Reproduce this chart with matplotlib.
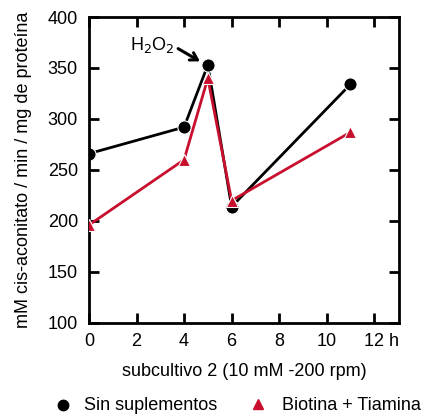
import matplotlib
matplotlib.use("Agg")
import matplotlib.pyplot as plt
import matplotlib.transforms as mtransforms
from matplotlib.lines import Line2D

plt.rcParams['font.family'] = ['Liberation Sans', 'DejaVu Sans']

# Time points (h) and activity values
hours = [0, 4, 5, 6, 11]
sin_suplementos = [266, 292, 353, 214, 334]
biotina_tiamina = [196, 260, 340, 220, 287]

x_ticks = [0, 2, 4, 6, 8, 10, 12]
y_ticks = [100, 150, 200, 250, 300, 350, 400]

black = '#000000'
red = '#c8102e'
FS = 13

fig = plt.figure(figsize=(4.32, 4.15), dpi=100)
ax = fig.add_axes([0.206, 0.222, 0.718, 0.737])

ax.plot(hours, sin_suplementos, color=black, lw=2, marker='o', ms=9.5,
        mfc=black, mec='white', mew=0.8, zorder=2)
ax.plot(hours, biotina_tiamina, color=red, lw=2, marker='^', ms=9,
        mfc=red, mec='white', mew=0.8, zorder=3)

ax.set_xlim(0, 13.05)
ax.set_ylim(100, 400)
ax.set_xticks(x_ticks)
ax.set_xticklabels([str(t) for t in x_ticks[:-1]] + ['12 h'])
ax.set_yticks(y_ticks)

for s in ax.spines.values():
    s.set_linewidth(2)
ax.tick_params(direction='in', length=7, width=2, labelsize=FS,
               top=True, right=True)
ax.tick_params(axis='y', pad=8)
ax.tick_params(axis='x', pad=7)

# keep "12" of the last label centred on its tick
last = ax.get_xticklabels()[-1]
last.set_horizontalalignment('left')
last.set_transform(last.get_transform() +
                   mtransforms.ScaledTranslation(-0.105, 0, fig.dpi_scale_trans))

ax.set_xlabel('subcultivo 2 (10 mM -200 rpm)', fontsize=FS, labelpad=10)
ax.set_ylabel('mM cis-aconitato / min / mg de proteína', fontsize=FS, labelpad=11)

# H2O2 addition marker
ax.text(2.65, 373, 'H$_2$O$_2$', fontsize=FS, ha='center', va='center')
ax.annotate('', xy=(4.67, 356.5), xytext=(3.75, 369),
            arrowprops=dict(arrowstyle='->,head_length=0.5,head_width=0.3',
                            color=black, lw=2.2, shrinkA=0, shrinkB=0))

# legend below the axes
ly = 1 - 405 / 415
fig.add_artist(Line2D([62.5 / 432], [ly], transform=fig.transFigure,
                      color=black, marker='o', ms=7.5, ls='none'))
fig.add_artist(Line2D([257.5 / 432], [ly + 0.002], transform=fig.transFigure,
                      color=red, marker='^', ms=7, ls='none'))
fig.text(84 / 432, ly, 'Sin suplementos', fontsize=FS, va='center', ha='left')
fig.text(282 / 432, ly, 'Biotina + Tiamina', fontsize=FS, va='center', ha='left')

fig.savefig('out.png', dpi=100)
